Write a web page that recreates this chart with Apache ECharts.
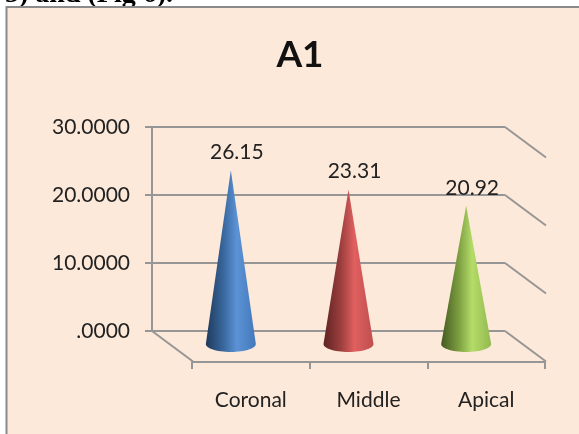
<!DOCTYPE html>
<html>
<head>
<meta charset="utf-8">
<style>html,body{margin:0;padding:0;background:#fff}#chart{width:579px;height:434px}</style>
<script src="https://cdn.jsdelivr.net/npm/echarts@6/dist/echarts.min.js"></script>
</head>
<body>
<div id="chart"></div>
<script>
// Cone chart values
const categories = ['Coronal', 'Middle', 'Apical'];
const coneValues = [26.15, 23.31, 20.92];
const wallTicks = [0, 10, 20, 30];
const wallTickLabels = ['.0000', '10.0000', '20.0000', '30.0000'];

// Colour ramp of each cone, dark left edge to lit band to right edge
const coneRamps = [
  ['#1f3a5c', '#38679c', '#5c93d6', '#4379ba'],
  ['#5e2322', '#9c3f3e', '#e0605f', '#bd4f4e'],
  ['#44591f', '#7c9e41', '#b4dc68', '#93b951']
];

const depthX = 41, depthY = 30.5;
const grey = '#969696';
const lineW = 2;
const font = 'Lato, "Open Sans", sans-serif';

const gridRect = { left: 152, right: 74, top: 127, bottom: 103 };

function line(x1, y1, x2, y2) {
  return { type: 'line', shape: { x1, y1, x2, y2 }, style: { stroke: grey, lineWidth: lineW } };
}

// Receding floor and side-wall edges
function renderDepth(params, api) {
  if (params.dataIndex !== 0) return null;
  const cs = params.coordSys;
  const children = wallTicks.map(t => {
    const p = api.coord([0, t]);
    const r = cs.x + cs.width;
    return line(r, p[1], r + depthX, p[1] + depthY);
  });
  const floorY = api.coord([0, 0])[1];
  children.push(line(cs.x, floorY, cs.x + depthX, floorY + depthY));
  return { type: 'group', children };
}

// One cone: tip at the value, elliptical base on the floor
function renderCone(params, api) {
  const idx = api.value(0);
  const val = api.value(1);
  const tip = api.coord([idx, val]);
  const zero = api.coord([idx, 0]);
  const cx = tip[0] + 20;
  const tipY = tip[1] + 17;
  const baseY = zero[1] + 13;
  const rx = 25, ry = 8;
  const pts = [[cx, tipY]];
  for (let a = 0; a <= 180; a += 6) {
    const rad = a * Math.PI / 180;
    pts.push([cx + rx * Math.cos(rad), baseY + ry * Math.sin(rad)]);
  }
  const ramp = coneRamps[idx];
  return {
    type: 'group',
    children: [
      {
        type: 'polygon',
        shape: { points: pts },
        style: {
          fill: {
            type: 'linear', x: 0, y: 0, x2: 1, y2: 0,
            colorStops: [
              { offset: 0, color: ramp[0] },
              { offset: 0.35, color: ramp[1] },
              { offset: 0.62, color: ramp[2] },
              { offset: 1, color: ramp[3] }
            ]
          }
        }
      },
      {
        type: 'text',
        style: {
          x: cx + 6, y: tipY - 18,
          text: val.toFixed(2),
          fill: '#222',
          font: '21px ' + font,
          align: 'center', verticalAlign: 'middle'
        }
      }
    ]
  };
}

const chart = echarts.init(document.getElementById('chart'), null, { renderer: 'canvas' });
chart.setOption({
  animation: false,
  backgroundColor: '#fff',
  title: {
    text: 'A1', left: 295, top: 50, textAlign: 'center', textVerticalAlign: 'middle',
    textStyle: { fontFamily: font, fontWeight: 'bold', fontSize: 37, color: '#111' }
  },
  graphic: [
    {
      type: 'rect', z: -10, silent: true,
      shape: { x: 6.5, y: 7, width: 590, height: 440 },
      style: { fill: '#fde9d9', stroke: '#8a8a8a', lineWidth: 2 }
    },
    {
      type: 'text', z: -12, silent: true, left: 5, top: -19,
      style: { text: '5) and (Fig 6).', fill: '#000', font: 'bold 28px "Liberation Serif", serif' }
    }
  ],
  grid: [
    gridRect,
    { left: 192, right: 34, top: 158, bottom: 72 }
  ],
  xAxis: [
    {
      gridIndex: 0, type: 'category', data: categories,
      axisLine: { show: false }, axisTick: { show: false }, axisLabel: { show: false }
    },
    {
      gridIndex: 1, type: 'category', data: categories,
      axisLine: { lineStyle: { color: grey, width: lineW } },
      axisTick: { show: true, length: 7, alignWithLabel: false, lineStyle: { color: grey, width: lineW } },
      axisLabel: { color: '#222', fontFamily: font, fontSize: 21, margin: 28 }
    }
  ],
  yAxis: [
    {
      gridIndex: 0, type: 'value', min: 0, max: 30, interval: 10,
      axisLine: { show: true, lineStyle: { color: grey, width: lineW } },
      axisTick: { show: true, length: 7, lineStyle: { color: grey, width: lineW } },
      axisLabel: {
        color: '#222', fontFamily: font, fontSize: 21, margin: 22,
        formatter: v => wallTickLabels[wallTicks.indexOf(v)]
      },
      splitLine: { show: true, lineStyle: { color: grey, width: lineW } }
    },
    { gridIndex: 1, type: 'value', min: 0, max: 30, show: false }
  ],
  series: [
    {
      type: 'custom', xAxisIndex: 0, yAxisIndex: 0, z: 1, silent: true,
      renderItem: renderDepth, clip: false,
      data: categories.map((c, i) => [i, coneValues[i]])
    },
    {
      type: 'custom', xAxisIndex: 0, yAxisIndex: 0, z: 5, silent: true,
      renderItem: renderCone, clip: false,
      encode: { x: 0, y: 1 },
      data: categories.map((c, i) => [i, coneValues[i]])
    }
  ]
});
</script>
</body>
</html>
